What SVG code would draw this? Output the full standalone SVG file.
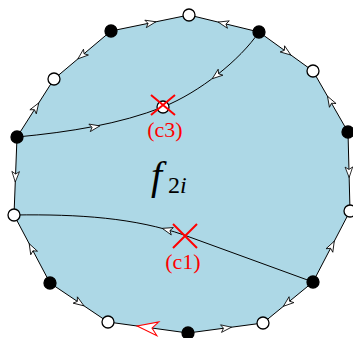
<svg xmlns="http://www.w3.org/2000/svg" xmlns:xlink="http://www.w3.org/1999/xlink" width="353" height="338" viewBox="0 0 353 338">
<style>
.e{fill:none;stroke:#000;stroke-width:1;marker-mid:url(#ar)}
.er{fill:none;stroke:#000;stroke-width:1;marker-mid:url(#arr)}
.c{fill:none;stroke:#000;stroke-width:1}
.w{fill:#fff;stroke:#000;stroke-width:1.3}
.b{fill:#000;stroke:#000;stroke-width:1.3}
.x{stroke:#ff0000;stroke-width:2;fill:none}
.lbl{font-family:"Liberation Serif",serif;font-size:22px;fill:#ff0000;text-anchor:middle}
</style>
<defs>
<path id="ah" d="M6,0 L-4.5,-3.8 L-2,0 L-4.5,3.8 Z" fill="#fff" stroke="#000" stroke-width="0.8"/>
<marker id="ar" markerUnits="userSpaceOnUse" viewBox="-10 -10 20 20" markerWidth="20" markerHeight="20" refX="0" refY="0" orient="auto" overflow="visible">
<use xlink:href="#ah"/>
</marker>
<marker id="arr" markerUnits="userSpaceOnUse" viewBox="-12 -12 24 24" markerWidth="24" markerHeight="24" refX="0" refY="0" orient="auto" overflow="visible">
<path d="M-11,0 L10,-7 L4,0 L10,7 Z" transform="scale(-1,1)" fill="#fff" stroke="#ff0000" stroke-width="1"/>
</marker>
</defs>
<polygon points="189,15 259,32 313,71 348,132 350,211 313,282 263,323 188,333 108,322 50,283 14,215 17,137 54,79 111,31" fill="#add8e6"/>
<g id="connectors">
<path class="e" d="M111,31 L150,23 L189,15"/>
<path class="e" d="M259,32 L224,23.5 L189,15"/>
<path class="e" d="M259,32 L286,51.5 L313,71"/>
<path class="e" d="M348,132 L330.5,101.5 L313,71"/>
<path class="e" d="M348,132 L349,171.5 L350,211"/>
<path class="e" d="M313,282 L331.5,246.5 L350,211"/>
<path class="e" d="M313,282 L288,302.5 L263,323"/>
<path class="e" d="M188,333 L225.5,328 L263,323"/>
<path class="er" d="M188,333 L148,327.5 L108,322"/>
<path class="e" d="M50,283 L79,302.5 L108,322"/>
<path class="e" d="M50,283 L32,249 L14,215"/>
<path class="e" d="M17,137 L15.5,176 L14,215"/>
<path class="e" d="M17,137 L35.5,108 L54,79"/>
<path class="e" d="M111,31 L82.5,55 L54,79"/>
<path class="c" d="M17,137 C70,132 120,124 163,107"/>
<path class="c" d="M259,32 C240,60 200,92 163,107"/>
<path class="c" d="M14,215 C80,214 135,218 184,235 L313,282"/>
<use xlink:href="#ah" transform="translate(94,127) rotate(-10.7)"/>
<use xlink:href="#ah" transform="translate(217,75) rotate(141.7)"/>
<use xlink:href="#ah" transform="translate(168,230) rotate(196)"/>
</g>
<g id="n_top"><circle class="w" cx="189" cy="15" r="6"/></g>
<g id="n_b1"><circle class="b" cx="259" cy="32" r="6"/></g>
<g id="n_w2"><circle class="w" cx="313" cy="71" r="6"/></g>
<g id="n_b3"><circle class="b" cx="348" cy="132" r="6"/></g>
<g id="n_w4"><circle class="w" cx="350" cy="211" r="6"/></g>
<g id="n_b5"><circle class="b" cx="313" cy="282" r="6"/></g>
<g id="n_w6"><circle class="w" cx="263" cy="323" r="6"/></g>
<g id="n_b7"><circle class="b" cx="188" cy="333" r="6"/></g>
<g id="n_w8"><circle class="w" cx="108" cy="322" r="6"/></g>
<g id="n_b9"><circle class="b" cx="50" cy="283" r="6"/></g>
<g id="n_w10"><circle class="w" cx="14" cy="215" r="6"/></g>
<g id="n_b11"><circle class="b" cx="17" cy="137" r="6"/></g>
<g id="n_w12"><circle class="w" cx="54" cy="79" r="6"/></g>
<g id="n_b13"><circle class="b" cx="111" cy="31" r="6"/></g>
<g id="c3">
<circle class="w" cx="163" cy="107" r="6"/>
<path class="x" d="M151,95 L175,115 M175,95 L151,115"/>
<text class="lbl" x="165" y="137">(c3)</text>
</g>
<g id="c1">
<path class="x" d="M173,224 L197,248 M197,224 L173,248"/>
<text class="lbl" x="183" y="269">(c1)</text>
</g>
<g id="face">
<text x="151" y="189" font-family="Liberation Serif, serif" font-style="italic" font-size="40">f</text>
<text x="168" y="193" font-family="Liberation Serif, serif" font-size="24">2<tspan font-style="italic">i</tspan></text>
</g>
</svg>
